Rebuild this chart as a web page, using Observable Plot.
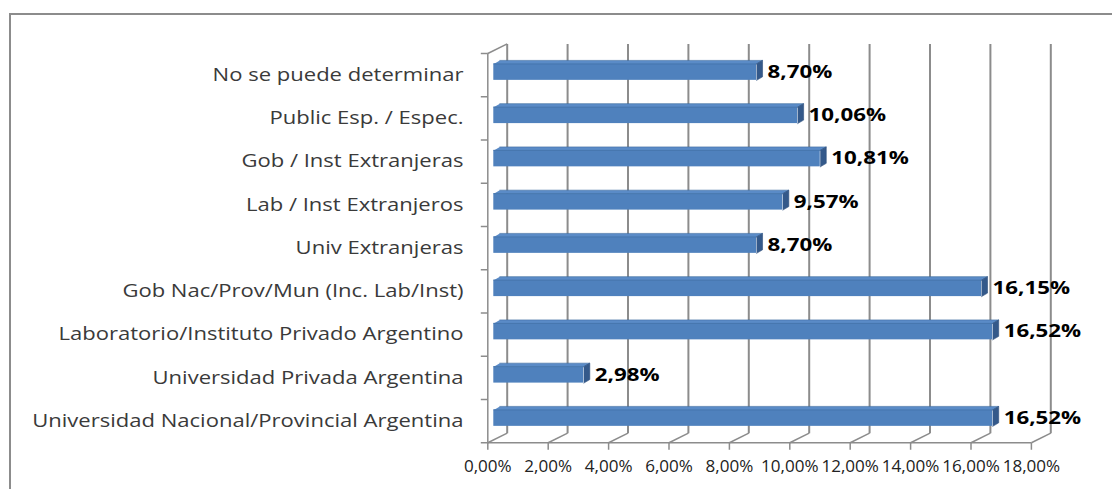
<!DOCTYPE html>
<html><head><meta charset="utf-8">
<script src="https://cdn.jsdelivr.net/npm/d3@7"></script>
<script src="https://cdn.jsdelivr.net/npm/@observablehq/plot@0.6"></script>
<style>
html,body{margin:0;padding:0;background:#fff;}
#chart{position:relative;width:1112px;height:489px;overflow:hidden;}
#chart svg{position:absolute;left:0;top:0;}
#border{position:absolute;left:9px;top:13px;width:1200px;height:600px;border-left:2px solid #8c8c8c;border-top:2px solid #8c8c8c;}
</style></head><body>
<div id="chart"><div id="border"></div></div>
<script>
// Categories, top to bottom
const categories = [
  "No se puede determinar",
  "Public Esp. / Espec.",
  "Gob / Inst Extranjeras",
  "Lab / Inst Extranjeros",
  "Univ Extranjeras",
  "Gob Nac/Prov/Mun (Inc. Lab/Inst)",
  "Laboratorio/Instituto Privado Argentino",
  "Universidad Privada Argentina",
  "Universidad Nacional/Provincial Argentina"
];
const values = [8.70, 10.06, 10.81, 9.57, 8.70, 16.15, 16.52, 2.98, 16.52];
const valueLabels = ["8,70%", "10,06%", "10,81%", "9,57%", "8,70%", "16,15%", "16,52%", "2,98%", "16,52%"];
const xTicks = [0, 2, 4, 6, 8, 10, 12, 14, 16, 18];
const xTickLabels = ["0,00%", "2,00%", "4,00%", "6,00%", "8,00%", "10,00%", "12,00%", "14,00%", "16,00%", "18,00%"];

// geometry (pixels)
const X0 = 493.3, KX = 30.2;       // bar front plane: px of 0 and px per unit
const Y0 = 50, KY = 43.25;         // band boundaries
const FRONT = [-6, 3];             // front wall offset from bar plane
const BACK = [13.4, -6.6];         // back wall offset from bar plane
const DEPTH = [19.4, -9.6];        // full depth vector
const BAR = [6, -3.5];             // bar thickness vector
const INSET = 13.4;

const data = categories.map((c, i) => ({c, i, v: values[i], label: valueLabels[i]}));
const bx = BAR[0] / KX, by = BAR[1] / KY;
const f = INSET / KY;
const topPts = [], endPts = [];
for (const d of data) {
  const yt = d.i + f, yb = d.i + 1 - f;
  topPts.push({i: d.i, x: 0, y: yt}, {i: d.i, x: d.v, y: yt}, {i: d.i, x: d.v + bx, y: yt + by}, {i: d.i, x: bx, y: yt + by});
  endPts.push({i: d.i, x: d.v, y: yt}, {i: d.i, x: d.v + bx, y: yt + by}, {i: d.i, x: d.v + bx, y: yb + by}, {i: d.i, x: d.v, y: yb});
}
const rows = d3.range(categories.length + 1);
const gray = "#8c8c8c";

const plot = Plot.plot({
  width: 1112, height: 489, margin: 0,
  style: {fontFamily: "Open Sans", background: "transparent"},
  x: {domain: [0, 18], range: [X0, X0 + 18 * KX], axis: null},
  y: {domain: [0, 9], range: [Y0, Y0 + 9 * KY], axis: null},
  marks: [
    // back wall gridlines
    Plot.link(xTicks, {x1: d => d, x2: d => d, y1: () => 0, y2: () => 9, dx: BACK[0], dy: BACK[1], stroke: gray, strokeWidth: 2}),
    // floor slants
    Plot.link(xTicks, {x1: d => d, x2: d => d + DEPTH[0] / KX, y1: () => 9, y2: () => 9 + DEPTH[1] / KY, dx: FRONT[0], dy: FRONT[1], stroke: gray, strokeWidth: 1.5}),
    // left wall top slant
    Plot.link([0], {x1: () => 0, x2: () => DEPTH[0] / KX, y1: () => 0, y2: () => DEPTH[1] / KY, dx: FRONT[0], dy: FRONT[1], stroke: gray, strokeWidth: 1.5}),
    // left wall vertical
    Plot.link([0], {x1: () => 0, x2: () => 0, y1: () => 0, y2: () => 9, dx: FRONT[0], dy: FRONT[1], stroke: gray, strokeWidth: 1.5}),
    // front floor line
    Plot.link([0], {x1: () => 0, x2: () => 18, y1: () => 9, y2: () => 9, dx: FRONT[0], dy: FRONT[1], stroke: gray, strokeWidth: 1.5}),
    // x tick marks
    Plot.link(xTicks, {x1: d => d, x2: d => d, y1: () => 9, y2: () => 9 + 7 / KY, dx: FRONT[0], dy: FRONT[1], stroke: gray, strokeWidth: 1.5}),
    // y tick marks
    Plot.link(rows, {x1: () => -7 / KX, x2: () => 0, y1: d => d, y2: d => d, dx: FRONT[0], dy: FRONT[1], stroke: gray, strokeWidth: 1.5}),
    // bars: front face
    Plot.rect(data, {x1: () => 0, x2: "v", y1: d => d.i, y2: d => d.i + 1, insetTop: INSET, insetBottom: INSET, fill: "#4f81bd"}),
    // bars: top face
    Plot.line(topPts, {x: "x", y: "y", z: "i", fill: "#5a8bc7", stroke: "#3d6a9e", strokeWidth: 0.6}),
    // bars: end face
    Plot.line(endPts, {x: "x", y: "y", z: "i", fill: "#34598a", stroke: "#2e4f7c", strokeWidth: 0.6}),
    // value labels
    Plot.text(data, {x: "v", y: d => d.i + 0.5, text: "label", textAnchor: "start", dx: 11, dy: 0, fontSize: 18, fontWeight: "bold", fill: "#000", ariaDescription: "vals"}),
    // category labels
    Plot.text(data, {x: () => 0, y: d => d.i + 0.5, text: "c", textAnchor: "end", dx: -30.3, dy: 3, fontSize: 18, fill: "#3a3a3a", ariaDescription: "cats"}),
    // x tick labels
    Plot.text(xTicks, {x: d => d, y: () => 9, text: (d, i) => xTickLabels[i], textAnchor: "middle", dx: FRONT[0], dy: FRONT[1] + 24, fontSize: 15.5, fill: "#222", ariaDescription: "xlab"})
  ]
});

function stretch(svg, desc, sx) {
  svg.querySelectorAll(`g[aria-description="${desc}"] text`).forEach(t => {
    const tr = t.getAttribute("transform");
    if (tr) t.setAttribute("transform", tr + ` scale(${sx},1)`);
    else {
      const x = +t.getAttribute("x") || 0, y = +t.getAttribute("y") || 0;
      t.setAttribute("transform", `translate(${x},${y}) scale(${sx},1) translate(${-x},${-y})`);
    }
  });
}
stretch(plot, "vals", 1.24);
stretch(plot, "cats", 1.225);
stretch(plot, "xlab", 1.1);
document.getElementById("chart").appendChild(plot);
</script>
</body></html>
